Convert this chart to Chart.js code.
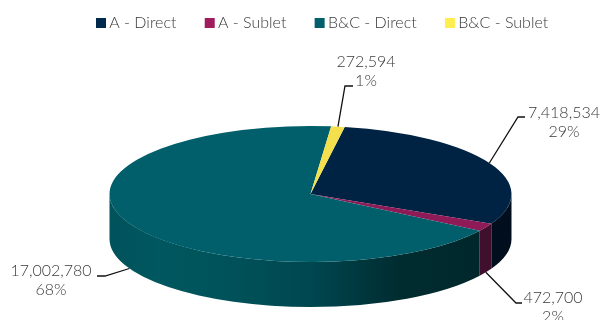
<!DOCTYPE html>
<html lang="en">
<head>
    <meta charset="UTF-8">
    <title>Space by tenancy</title>
    <script src="https://cdn.jsdelivr.net/npm/chart.js"></script>
    <style>
        body { background: #fff; margin: 0; padding: 0; overflow: hidden; }
        canvas { display: block; }
    </style>
</head>
<body>
    <canvas id="tenancyPie" width="603" height="320"></canvas>
    <script>
    const categories = ['A - Direct', 'A - Sublet', 'B&C - Direct', 'B&C - Sublet'];
    const squareFeet = [7418534, 472700, 17002780, 272594];

    const topColors = ['#002343', '#8e1a57', '#005f6b', '#f4e04d'];
    const legendColors = ['#002a4d', '#a01c5f', '#005f6b', '#ffee50'];
    const wallColors = ['#000e1e', '#3f0f2d', null, '#6e6420'];

    // ellipse the flat pie gets squashed onto, and how tall the side wall is
    const disc = { cx: 310.5, cy: 194, rx: 201, ry: 68, depth: 45 };

    // where each callout bends and where its two text lines are centred
    const callouts = [
        { elbow: [518, 117], end: [525, 117], text: [564, 113] },
        { elbow: [516, 303], end: [522, 303], text: [553, 298] },
        { elbow: [105, 276], end: [97, 276], text: [51, 271] },
        { elbow: [345, 86], end: [353, 86], text: [366, 62] }
    ];

    const labelFont = "300 16px Lato, 'Open Sans', sans-serif";

    function wallGradient(ctx) {
        const g = ctx.createLinearGradient(disc.cx - disc.rx, 0, disc.cx + disc.rx, 0);
        g.addColorStop(0, '#00525b');
        g.addColorStop(0.12, '#00575f');
        g.addColorStop(0.3, '#00525a');
        g.addColorStop(0.5, '#004750');
        g.addColorStop(0.72, '#002c30');
        g.addColorStop(1, '#00262a');
        return g;
    }

    function drawWall(ctx, from, to, fill) {
        const { cx, cy, rx, ry, depth } = disc;
        ctx.beginPath();
        ctx.ellipse(cx, cy, rx, ry, 0, from, to);
        ctx.ellipse(cx, cy + depth, rx, ry, 0, to, from, true);
        ctx.closePath();
        ctx.fillStyle = fill;
        ctx.fill();
    }

    const piePerspective = {
        id: 'piePerspective',
        beforeDatasetsDraw(chart) {
            const ctx = chart.ctx;
            const arcs = chart.getDatasetMeta(0).data;
            // only the front half of the disc shows a wall, canvas angles 0..PI
            arcs.forEach((arc, i) => {
                [0, 2 * Math.PI, -2 * Math.PI].forEach(turn => {
                    const from = Math.max(arc.startAngle, turn);
                    const to = Math.min(arc.endAngle, turn + Math.PI);
                    if (to > from) {
                        drawWall(ctx, from, to, wallColors[i] || wallGradient(ctx));
                    }
                });
            });
            const first = arcs[0];
            ctx.save();
            ctx.translate(disc.cx, disc.cy);
            ctx.scale(disc.rx / first.outerRadius, disc.ry / first.outerRadius);
            ctx.translate(-first.x, -first.y);
        },
        afterDatasetsDraw(chart) {
            const ctx = chart.ctx;
            ctx.restore();

            const total = squareFeet.reduce((a, b) => a + b, 0);
            chart.getDatasetMeta(0).data.forEach((arc, i) => {
                const mid = (arc.startAngle + arc.endAngle) / 2;
                const sin = Math.sin(mid);
                const c = callouts[i];
                const startX = disc.cx + disc.rx * Math.cos(mid);
                const startY = disc.cy + disc.ry * sin + (sin > 0 ? disc.depth : 0);

                ctx.beginPath();
                ctx.moveTo(startX, startY);
                ctx.lineTo(c.elbow[0], c.elbow[1]);
                ctx.lineTo(c.end[0], c.end[1]);
                ctx.strokeStyle = '#111';
                ctx.lineWidth = 1.3;
                ctx.stroke();

                ctx.font = labelFont;
                ctx.fillStyle = '#3a3a3a';
                ctx.textAlign = 'center';
                ctx.textBaseline = 'middle';
                ctx.fillText(squareFeet[i].toLocaleString('en-US'), c.text[0], c.text[1]);
                ctx.fillText(Math.round(squareFeet[i] / total * 100) + '%', c.text[0], c.text[1] + 19);
            });
        }
    };

    new Chart(document.getElementById('tenancyPie'), {
        type: 'pie',
        data: {
            labels: categories,
            datasets: [{
                data: squareFeet,
                backgroundColor: topColors,
                borderWidth: 0
            }]
        },
        options: {
            responsive: false,
            animation: false,
            rotation: 9.8,
            layout: { padding: { top: -18, left: 46 } },
            plugins: {
                tooltip: { enabled: false },
                legend: {
                    position: 'top',
                    labels: {
                        usePointStyle: true,
                        pointStyle: 'rect',
                        boxWidth: 0.5,
                        boxHeight: 10,
                        padding: 33,
                        color: '#3a3a3a',
                        font: { family: "Lato, 'Open Sans', sans-serif", size: 16, weight: '300' },
                        generateLabels(chart) {
                            const items = Chart.overrides.pie.plugins.legend.labels.generateLabels(chart);
                            items.forEach((item, i) => { item.fillStyle = legendColors[i]; });
                            return items;
                        }
                    }
                }
            }
        },
        plugins: [piePerspective]
    });
    </script>
</body>
</html>
